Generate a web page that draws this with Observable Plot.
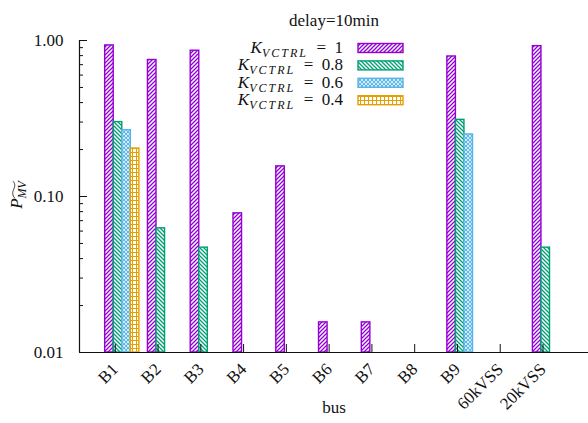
<!DOCTYPE html>
<html><head><meta charset="utf-8">
<script src="https://cdn.jsdelivr.net/npm/d3@7"></script>
<script src="https://cdn.jsdelivr.net/npm/@observablehq/plot@0.6"></script>
<style>
html,body{margin:0;padding:0;background:#fff} svg{display:block}
</style>
</head><body><div id="chart"></div>
<script>
// ---- data ----
const categories = ["B1","B2","B3","B4","B5","B6","B7","B8","B9","60kVSS","20kVSS"];
const seriesK = ["1","0.8","0.6","0.4"];
const seriesColors = ["#9400D3","#009E73","#56B4E9","#E69F00"];
const valuesK1  = [0.93, 0.75, 0.86, 0.078, 0.156, 0.0156, 0.0156, null, 0.79, null, 0.92];
const valuesK08 = [0.30, 0.0625, 0.047, null, null, null, null, null, 0.31, null, 0.047];
const valuesK06 = [0.266, null, null, null, null, null, null, null, 0.25, null, null];
const valuesK04 = [0.203, null, null, null, null, null, null, null, null, null, null];
const yTicks = [0.01, 0.1, 1];
const yMinorTicks = [0.02,0.03,0.04,0.05,0.06,0.07,0.08,0.09,0.2,0.3,0.4,0.5,0.6,0.7,0.8,0.9];
const titleText = "delay=10min";
const xLabel = "bus";

const FONT = "'Liberation Serif', 'Times New Roman', serif";

const allValues = [valuesK1, valuesK08, valuesK06, valuesK04];
const clusterW = 0.8, barW = clusterW / seriesK.length;
const rows = [];
allValues.forEach((vals, s) => vals.forEach((v, i) => {
  if (v != null) rows.push({cat: i, s, v, x1: i - clusterW/2 + s*barW, x2: i - clusterW/2 + (s+1)*barW});
}));

const W = 588, H = 423;
const barMarks = seriesK.map((k, s) => Plot.rectY(rows.filter(r => r.s === s), {
  x1: "x1", x2: "x2", y1: yTicks[0], y2: "v",
  fill: `url(#pat${s})`, stroke: seriesColors[s], strokeWidth: 1.4
}));

const plot = Plot.plot({
  width: W, height: H,
  marginLeft: 79, marginRight: 0, marginTop: 40, marginBottom: 71,
  style: {fontSize: "17px", color: "#111", background: "#fff"},
  x: {type: "linear", domain: [-1, categories.length - 0.1]},
  y: {type: "log", domain: [yTicks[0], yTicks[yTicks.length-1]]},
  marks: [
    ...barMarks,
    Plot.ruleY([yTicks[0]], {stroke: "#111", strokeWidth: 1.2}),
    Plot.ruleX([-1], {stroke: "#111", strokeWidth: 1.2}),
    Plot.axisY(yTicks, {anchor: "left", tickSize: -8, tickPadding: 24, tickFormat: d3.format(".2f"), label: null, fontSize: 17}),
    Plot.axisY(yMinorTicks, {anchor: "left", tickSize: -4, tickFormat: () => "", label: null}),
    Plot.axisX(d3.range(categories.length), {anchor: "bottom", tickSize: -8, tickPadding: 22, tickRotate: -45, dx: -7, tickFormat: i => categories[i], label: null, fontSize: 17}),
    Plot.text([titleText], {frameAnchor: "top", dy: -27, fontSize: 17}),
    Plot.text([xLabel], {frameAnchor: "bottom", dy: 60, fontSize: 17})
  ]
});
document.getElementById("chart").appendChild(plot);

const ns = "http://www.w3.org/2000/svg";
const defs = document.createElementNS(ns, "defs");
defs.innerHTML = `
<pattern id="pat0" patternUnits="userSpaceOnUse" width="4" height="4"><rect width="4" height="4" fill="#fff"/><path d="M-1,1 l2,-2 M0,4 l4,-4 M3,5 l2,-2" stroke="${seriesColors[0]}" stroke-width="1.3"/></pattern>
<pattern id="pat1" patternUnits="userSpaceOnUse" width="4" height="4"><rect width="4" height="4" fill="#fff"/><path d="M-1,3 l2,2 M0,0 l4,4 M3,-1 l2,2" stroke="${seriesColors[1]}" stroke-width="1.3"/></pattern>
<pattern id="pat2" patternUnits="userSpaceOnUse" width="4" height="4"><rect width="4" height="4" fill="#fff"/><path d="M-1,1 l2,-2 M0,4 l4,-4 M3,5 l2,-2 M-1,3 l2,2 M0,0 l4,4 M3,-1 l2,2" stroke="${seriesColors[2]}" stroke-width="1.1"/></pattern>
<pattern id="pat3" patternUnits="userSpaceOnUse" width="4" height="4"><rect width="4" height="4" fill="#fff"/><path d="M0,0.5 H4 M0.5,0 V4" stroke="${seriesColors[3]}" stroke-width="1.1"/></pattern>`;
plot.insertBefore(defs, plot.firstChild);

const leg = document.createElementNS(ns, "g");
leg.setAttribute("font-size", "17");
leg.setAttribute("fill", "#111");
seriesK.forEach((k, s) => {
  const cy = 48 + 17.4 * s;
  const t = document.createElementNS(ns, "text");
  t.setAttribute("x", 343); t.setAttribute("y", cy + 5);
  t.setAttribute("text-anchor", "end");
  t.innerHTML = `<tspan font-style="italic">K</tspan><tspan font-style="italic" font-size="12" dy="4" letter-spacing="2">VCTRL</tspan><tspan dy="-4">\u2002=\u2002${k}</tspan>`;
  leg.appendChild(t);
  const r = document.createElementNS(ns, "rect");
  r.setAttribute("x", 358); r.setAttribute("y", cy - 4.5);
  r.setAttribute("width", 45); r.setAttribute("height", 9);
  r.setAttribute("fill", `url(#pat${s})`); r.setAttribute("stroke", seriesColors[s]); r.setAttribute("stroke-width", 1.4);
  leg.appendChild(r);
});
plot.appendChild(leg);

const yl = document.createElementNS(ns, "g");
yl.setAttribute("transform", "translate(22,195) rotate(-90)");
yl.setAttribute("fill", "#111");
const ylt = document.createElementNS(ns, "text");
ylt.setAttribute("text-anchor", "middle");
ylt.setAttribute("font-size", "17");
ylt.innerHTML = `<tspan font-style="italic">P</tspan><tspan font-style="italic" font-size="12" dy="4">MV</tspan>`;
yl.appendChild(ylt);
plot.appendChild(yl);

plot.style.setProperty("font-family", FONT, "important");
plot.querySelectorAll("g, text, tspan").forEach(el => {
  el.style.setProperty("font-family", FONT, "important");
  if (el.hasAttribute("font-family")) el.setAttribute("font-family", FONT);
});

try {
  const a = ylt.getStartPositionOfChar(1).x, b = ylt.getEndPositionOfChar(2).x;
  const w = b - a, yT = -7;
  const tl = document.createElementNS(ns, "path");
  tl.setAttribute("d", `M${a},${yT} C${a + w*0.2},${yT-3} ${a + w*0.35},${yT-2.5} ${a + w*0.5},${yT-1.5} S${a + w*0.8},${yT+1} ${b},${yT-2}`);
  tl.setAttribute("fill", "none"); tl.setAttribute("stroke", "#111"); tl.setAttribute("stroke-width", 0.8);
  yl.appendChild(tl);
} catch (e) {}
</script></body></html>
